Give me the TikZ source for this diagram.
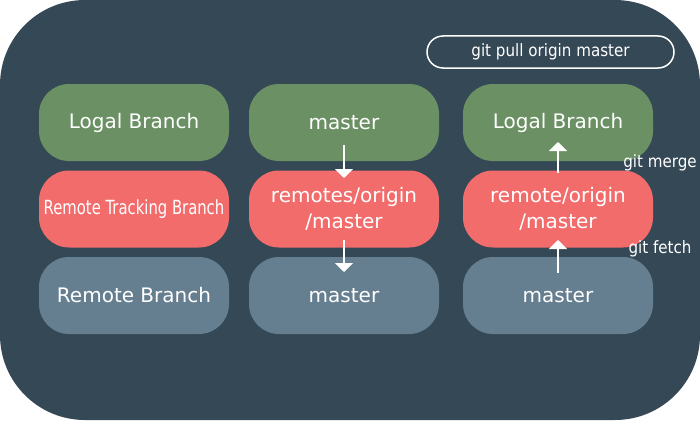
\documentclass[tikz,border=0pt]{standalone}
\usepackage{fontspec}
\setmainfont{DejaVu Sans}
\newfontfamily\narrowfont[FakeStretch=0.89]{DejaVu Sans}
\newfontfamily\squeezefont[FakeStretch=0.76]{DejaVu Sans}
\usetikzlibrary{arrows.meta}
\definecolor{bgblue}{HTML}{354856}
\definecolor{localgreen}{HTML}{6A9063}
\definecolor{trackred}{HTML}{F26C6C}
\definecolor{remotegrey}{HTML}{667F90}
\tikzset{
    branch/.style={minimum width=190pt, minimum height=77pt, rounded corners=30pt,
        inner sep=0pt, text=white, align=center, font=\fontsize{20}{26}\selectfont},
    cmd/.style={text=white, inner sep=0pt, font=\narrowfont\fontsize{17}{20}\selectfont},
    flow/.style={-{Triangle[width=18pt,length=9pt]}, white, line width=2pt}
}
\begin{document}
\begin{tikzpicture}[x=1pt,y=-1pt]
        \useasboundingbox (0,0) rectangle (700,420);
        \fill[bgblue, rounded corners=85pt] (0,0) rectangle (700,420);
        % legend column
        \node[branch,fill=localgreen] (l0) at (134,122.5) {Logal Branch};
        \node[branch,fill=trackred] (r0) at (134,209) {\squeezefont\fontsize{19.5}{22}\selectfont Remote Tracking Branch};
        \node[branch,fill=remotegrey] (b0) at (134,295.5) {Remote Branch};
        % push
        \node[branch,fill=localgreen] (l1) at (344,122.5) {master};
        \node[branch,fill=trackred] (r1) at (344,209) {remotes/origin\\/master};
        \node[branch,fill=remotegrey] (b1) at (344,295.5) {master};
        \draw[flow, shorten <=22.5pt, shorten >=31pt] (l1.center) -- (r1.center);
        \draw[flow, shorten <=31pt, shorten >=23.5pt] (r1.center) -- (b1.center);
        % pull
        \node[draw=white, line width=1.5pt, minimum width=247pt, minimum height=32pt,
            rounded corners=16pt, cmd] (pull) at (550.5,52) {git pull origin master};
        \node[branch,fill=localgreen] (l2) at (558,122.5) {Logal Branch};
        \node[branch,fill=trackred] (r2) at (558,209) {remote/origin\\/master};
        \node[branch,fill=remotegrey] (b2) at (558,295.5) {master};
        \draw[flow, shorten <=22.5pt, shorten >=31pt] (b2.center) -- (r2.center);
        \draw[flow, shorten <=36pt, shorten >=19.5pt] (r2.center) -- (l2.center);
        \node[cmd] (merge) at (660,163) {git merge};
        \node[cmd] (fetch) at (660,249) {git fetch};
    \end{tikzpicture}
\end{document}
